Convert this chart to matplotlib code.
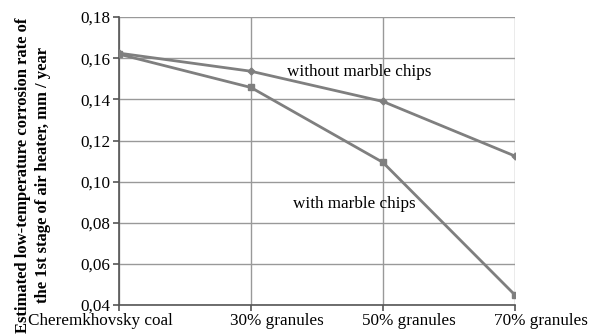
import matplotlib.pyplot as plt
import matplotlib.transforms as mtransforms
from matplotlib.ticker import FuncFormatter

plt.rcParams['font.family'] = ['Liberation Serif', 'DejaVu Serif']

# data
categories = ['Cheremkhovsky coal', '30% granules', '50% granules', '70% granules']
without_chips = [0.1625, 0.1537, 0.139, 0.1125]
with_chips = [0.162, 0.1458, 0.1094, 0.045]

fig = plt.figure(figsize=(5.89, 3.36), dpi=100)
ax = fig.add_axes([0.202, 0.092, 0.672, 0.857])

x = list(range(len(categories)))
grey = '#7f7f7f'
ax.plot(x, without_chips, color=grey, lw=2, marker='D', ms=3.5, zorder=3)
ax.plot(x, with_chips, color=grey, lw=2, marker='s', ms=5, zorder=3)

ax.set_xlim(0, 3)
ax.set_ylim(0.04, 0.18)
ax.set_yticks([0.04, 0.06, 0.08, 0.10, 0.12, 0.14, 0.16, 0.18])
ax.yaxis.set_major_formatter(FuncFormatter(lambda v, p: f'{v:.2f}'.replace('.', ',')))
ax.set_xticks(x)
ax.set_xticklabels(categories)
ax.grid(True, color='#999999', lw=1)
ax.set_axisbelow(True)
for s in ['top', 'right']:
    ax.spines[s].set_visible(False)
for s in ['left', 'bottom']:
    ax.spines[s].set_color('#555555')
    ax.spines[s].set_linewidth(1.2)
ax.tick_params(axis='both', labelsize=12.3, color='#555555', length=4, width=1.2, pad=2)

# shift category labels like the original
labels = ax.get_xticklabels()
shift = mtransforms.ScaledTranslation(26 / 100, 0, fig.dpi_scale_trans)
for lab in labels[1:]:
    lab.set_transform(lab.get_transform() + shift)
labels[0].set_horizontalalignment('left')
labels[0].set_transform(labels[0].get_transform() + mtransforms.ScaledTranslation(-91 / 100, 0, fig.dpi_scale_trans))

ax.set_ylabel('Estimated low-temperature corrosion rate of\nthe 1st stage of air heater, mm / year',
              fontsize=12, fontweight='bold', linespacing=1.3)
ax.yaxis.set_label_coords(-0.172, 0.451)

ax.text(1.27, 0.1535, 'without marble chips', fontsize=12.3, va='center')
ax.text(1.32, 0.089, 'with marble chips', fontsize=12.3, va='center')

fig.savefig('out.png', dpi=100)
